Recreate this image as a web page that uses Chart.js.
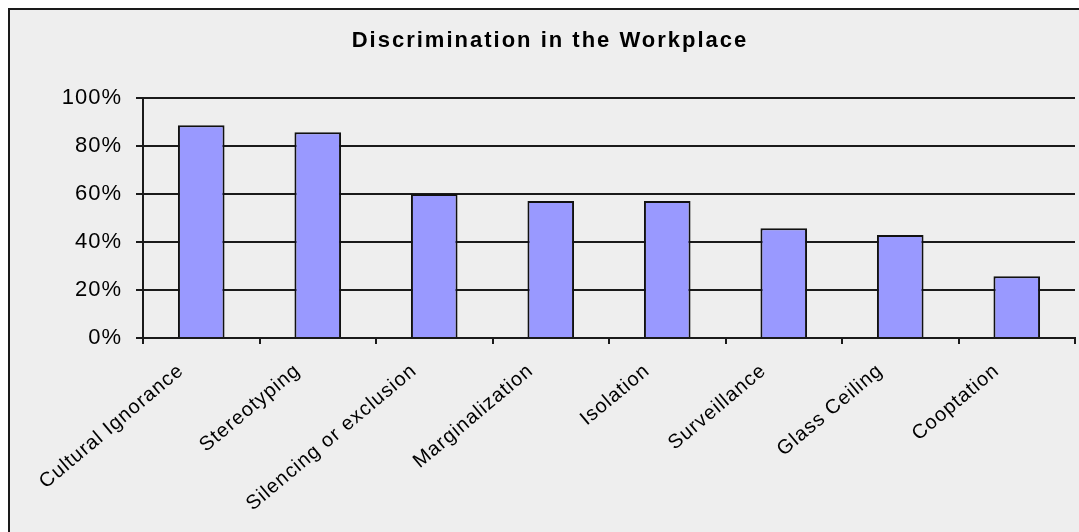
<!DOCTYPE html>
<html>
<head>
<meta charset="utf-8">
<script src="https://cdn.jsdelivr.net/npm/chart.js@4/dist/chart.umd.min.js"></script>
<style>
  html, body { margin: 0; padding: 0; background: #ffffff; }
  #wrap { width: 1079px; height: 532px; position: relative; }
  canvas { display: block; }
</style>
</head>
<body>
<div id="wrap"><canvas id="c" width="1079" height="532"></canvas></div>
<script>
const chartTitle = 'Discrimination in the Workplace';
const categories = ['Cultural Ignorance', 'Stereotyping', 'Silencing or exclusion', 'Marginalization', 'Isolation', 'Surveillance', 'Glass Ceiling', 'Cooptation'];
const shares = [0.886, 0.857, 0.600, 0.571, 0.571, 0.457, 0.429, 0.257];
const yTickLabels = ['0%', '20%', '40%', '60%', '80%', '100%'];

const FONT = '"Liberation Sans", Arial, Helvetica, sans-serif';

const framePlugin = {
  id: 'frame',
  beforeDraw(chart) {
    const ctx = chart.ctx;
    ctx.save();
    ctx.fillStyle = '#eeeeee';
    ctx.fillRect(8, 8, chart.width, chart.height);
    ctx.strokeStyle = '#1a1a1a';
    ctx.lineWidth = 2;
    ctx.beginPath();
    ctx.moveTo(9, chart.height + 5);
    ctx.lineTo(9, 9);
    ctx.lineTo(chart.width + 5, 9);
    ctx.stroke();
    ctx.restore();
    ctx.letterSpacing = '1px';
  },
  afterDraw(chart) {
    const ctx = chart.ctx;
    ctx.save();
    ctx.letterSpacing = '2px';
    ctx.font = 'bold 22px ' + FONT;
    ctx.fillStyle = '#000';
    ctx.textAlign = 'center';
    ctx.textBaseline = 'alphabetic';
    ctx.fillText(chartTitle, 550, 47);
    ctx.restore();
  }
};

new Chart(document.getElementById('c'), {
  type: 'bar',
  data: {
    labels: categories,
    datasets: [{
      data: shares,
      backgroundColor: '#9999ff',
      borderColor: '#111111',
      borderWidth: 2,
      barPercentage: 0.4,
      categoryPercentage: 1.0
    }]
  },
  options: {
    responsive: false,
    animation: false,
    devicePixelRatio: 1,
    layout: { padding: { left: 23, right: 4, top: 98, bottom: 0 } },
    plugins: {
      legend: { display: false },
      title: { display: false },
      tooltip: { enabled: false }
    },
    scales: {
      x: {
        afterFit(scale) { scale.height = 194; },
        grid: {
          offset: true,
          drawOnChartArea: false,
          drawTicks: true,
          tickLength: 6,
          color: '#1a1a1a',
          lineWidth: 2
        },
        border: { display: true, color: '#1a1a1a', width: 2 },
        ticks: {
          color: '#000',
          font: { family: FONT, size: 20 },
          minRotation: 40,
          maxRotation: 40,
          autoSkip: false,
          padding: 15,
          labelOffset: -20
        }
      },
      y: {
        min: 0,
        max: 1,
        afterFit(scale) { scale.width = 120; },
        grid: {
          color: '#1a1a1a',
          lineWidth: 2,
          drawTicks: true,
          tickLength: 7
        },
        border: { display: true, color: '#1a1a1a', width: 2 },
        ticks: {
          stepSize: 0.2,
          color: '#000',
          font: { family: FONT, size: 22 },
          padding: 14,
          callback: (v, i) => yTickLabels[i]
        }
      }
    }
  },
  plugins: [framePlugin]
});
</script>
</body>
</html>
